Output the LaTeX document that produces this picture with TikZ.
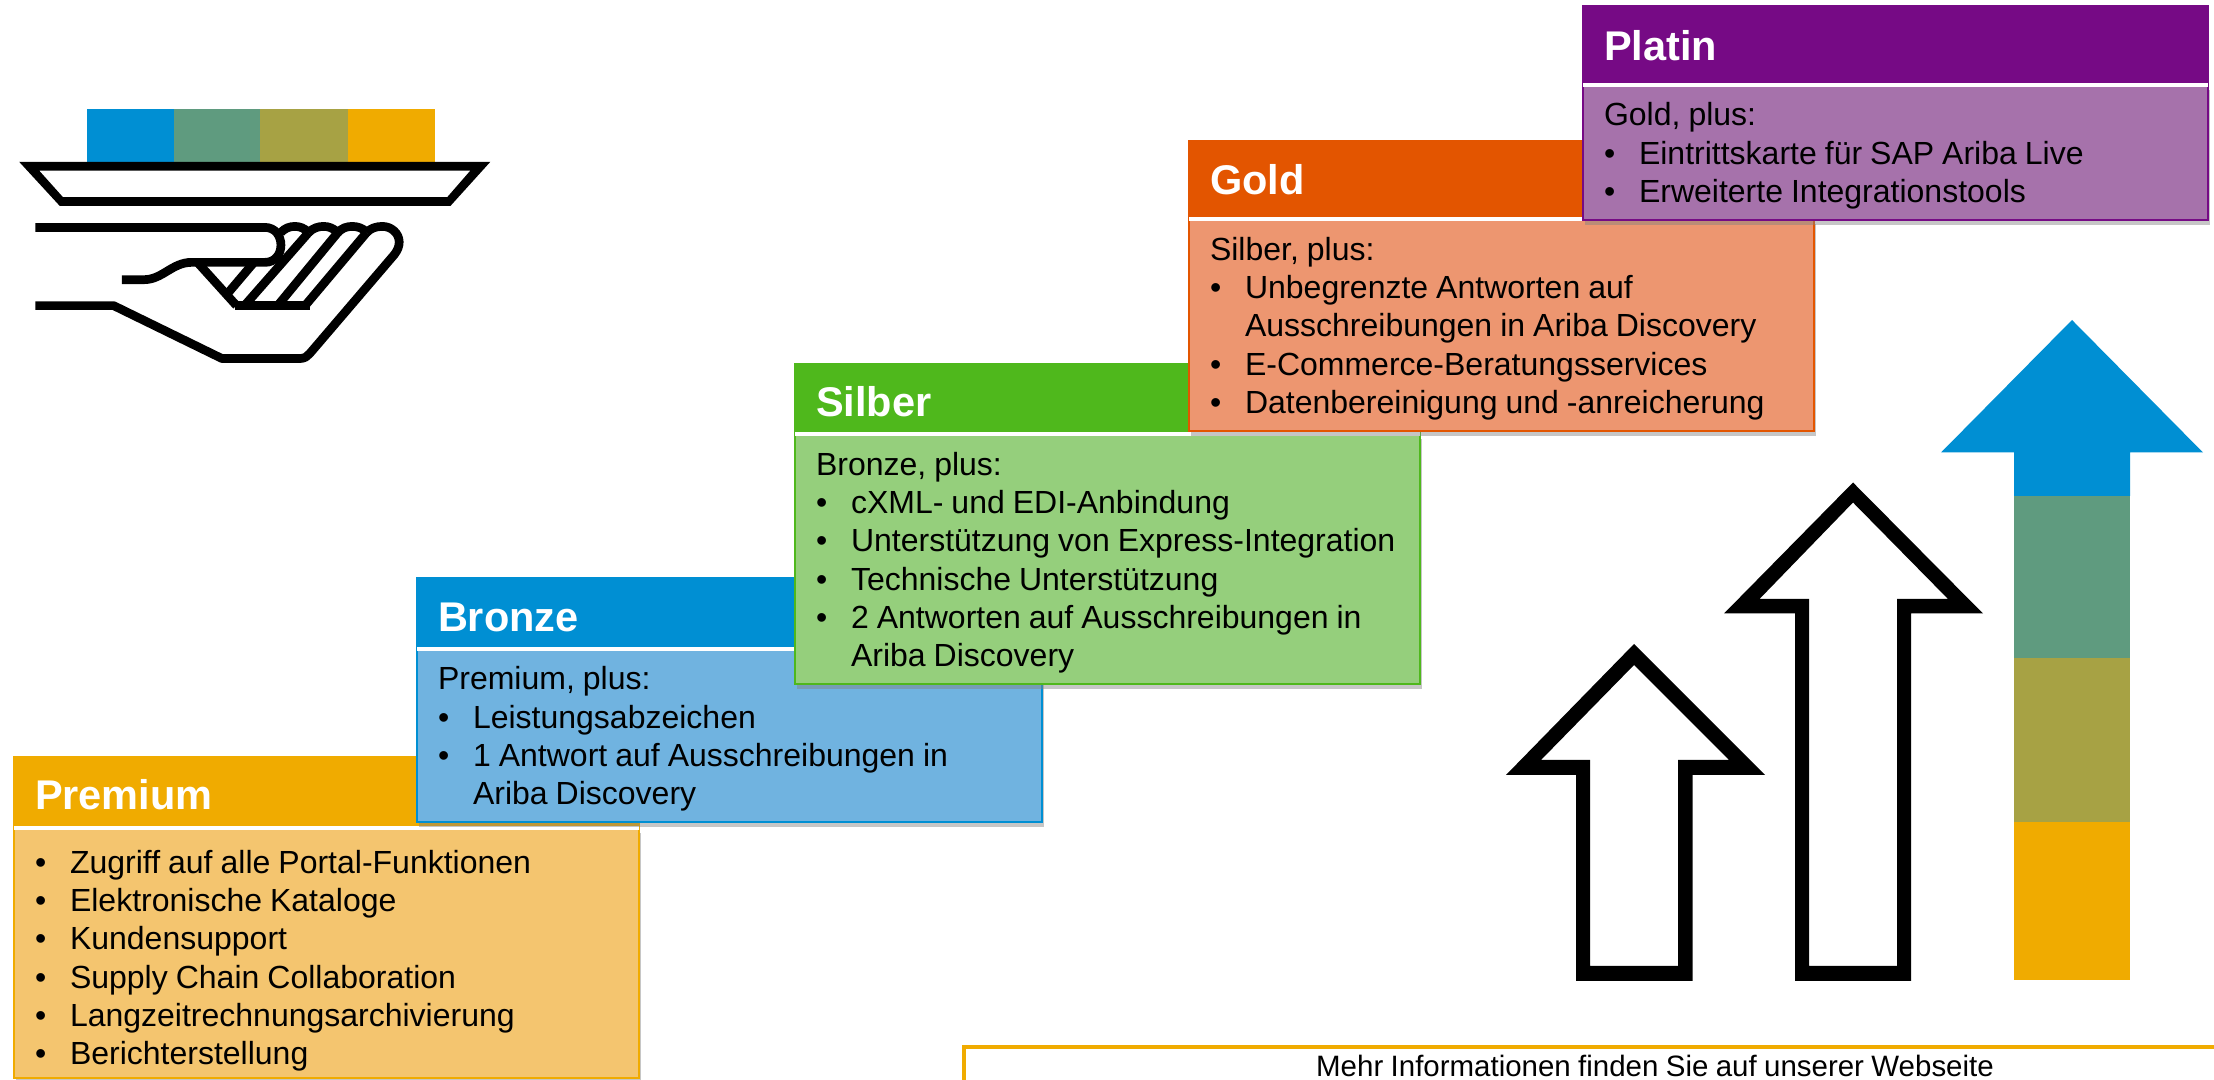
\documentclass[tikz,border=0pt]{standalone}
\usepackage{fontspec}
\setmainfont[WordSpace=.9]{Liberation Sans}
\usetikzlibrary{shadows}
\definecolor{sapblue}{HTML}{008FD3}
\definecolor{sapblueL}{HTML}{70B3E0}
\definecolor{sapgold}{HTML}{F0AB00}
\definecolor{sapgoldL}{HTML}{F4C56F}
\definecolor{sapgreen}{HTML}{4FB81C}
\definecolor{sapgreenL}{HTML}{95CF7C}
\definecolor{saporange}{HTML}{E35500}
\definecolor{saporangeL}{HTML}{ED9670}
\definecolor{sappurple}{HTML}{760A85}
\definecolor{sappurpleL}{HTML}{A672AB}
\definecolor{sapteal}{HTML}{5F9B7F}
\definecolor{sapolive}{HTML}{A7A244}
\newcommand{\tieritem}[1]{\mbox{\makebox[.35cm][l]{•}#1}}
\newcommand{\tiercont}[1]{\mbox{\hspace*{.35cm}#1}}
\tikzset{
  tierhead/.style={rectangle,anchor=north west,fill=#1,draw=#1,line width=.02cm,
    outer sep=0pt,inner xsep=.21cm,inner ysep=0pt,text width=5.83cm,align=flush left,
    text=white,font=\fontsize{11.8}{14}\selectfont\bfseries},
  headdrop/.style={execute at begin node={\rule{0pt}{10.3pt}}},
  tierbody/.style={rectangle,anchor=north west,fill=#1L,draw=#1,line width=.02cm,
    outer sep=0pt,inner xsep=.21cm,inner ysep=0pt,text width=5.83cm,align=flush left,
    text=black,font=\fontsize{9.1}{10.9}\selectfont,
    execute at begin node={\rule{0pt}{8.6pt}},
    drop shadow={shadow xshift=.015cm,shadow yshift=-.05cm,opacity=.45}},
  tierrule/.style={white,line width=.04cm},
  arrowline/.style={black,even odd rule},
  iconline/.style={black,line width=.087cm}
}
\begin{document}
\begin{tikzpicture}[x=.01cm,y=-.01cm]
  \useasboundingbox (0,0) rectangle (2214,1080);
  %% Tray with hand
  \foreach \xa/\xb/\tint in {86.5/173.5/sapblue,173.5/260/sapteal,260/347.5/sapolive,347.5/434.5/sapgold}
    \fill[\tint] (\xa,109.5) rectangle (\xb,163);
  \begin{scope}[shift={(0,80)},x=.003317cm,y=-.003333cm]
    \fill[arrowline] (58,246) -- (1480,246) -- (1360,378) -- (180,378) -- cycle
      (118,272) -- (1420,272) -- (1350,352) -- (190,352) -- cycle;
    \draw[iconline] (107,443) -- (800,443) .. controls (830,443) and (848,468) .. (848,496)
      .. controls (848,524) and (830,548) .. (800,548) -- (578,548)
      .. controls (520,548) and (490,600) .. (435,600) -- (368,600);
    \draw[iconline,line join=round] (107,678) -- (343,678) -- (670,837) -- (905,837)
      .. controls (920,837) and (928,830) .. (935,822) -- (1190,525)
      .. controls (1200,512) and (1205,500) .. (1205,487)
      .. controls (1205,460) and (1180,440) .. (1155,440)
      .. controls (1135,440) and (1120,445) .. (1107,458);
    %% Finger tips
    \draw[iconline] (848,458) .. controls (860,445) and (875,440) .. (890,440) .. controls (905,440) and (918,445) .. (932,458);
    \draw[iconline] (932,458) .. controls (945,445) and (960,440) .. (977,440) .. controls (992,440) and (1005,445) .. (1020,458);
    \draw[iconline] (1020,458) .. controls (1032,445) and (1047,440) .. (1063,440) .. controls (1080,440) and (1095,445) .. (1107,458);
    %% Palm
    \draw[iconline] (596,548) -- (714,678);
    \draw[iconline] (708,678) -- (935,678);
    \draw[iconline] (765,550) -- (690,638);
    \draw[iconline] (932,458) -- (738,678);
    \draw[iconline] (1020,458) -- (838,678);
    \draw[iconline] (1107,458) -- (921,678);
  \end{scope}
  %% Tier boxes
  \node[tierbody=sapgold,minimum height=2.50cm] (premiumbody) at (14,828) {%
    \rule{0pt}{11pt}\tieritem{Zugriff auf alle Portal-Funktionen}\\
    \tieritem{Elektronische Kataloge}\\
    \tieritem{Kundensupport}\\
    \tieritem{Supply Chain Collaboration}\\
    \tieritem{Langzeitrechnungsarchivierung}\\
    \tieritem{Berichterstellung}};
  \node[tierhead=sapgold,headdrop,minimum height=.70cm] (premiumhead) at (14,757) {Premium};
  \draw[tierrule] (premiumbody.north west) -- (premiumbody.north east);
  \node[tierbody=sapblue,minimum height=1.73cm] (bronzebody) at (417,649) {%
    Premium, plus:\\
    \tieritem{Leistungsabzeichen}\\
    \tieritem{1 Antwort auf Ausschreibungen in}\\
    \tiercont{Ariba Discovery}};
  \node[tierhead=sapblue,headdrop,minimum height=.71cm] (bronzehead) at (417,578) {Bronze};
  \draw[tierrule] (bronzebody.north west) -- (bronzebody.north east);
  \node[tierbody=sapgreen,minimum height=2.50cm] (silberbody) at (795,434) {%
    Bronze, plus:\\
    \tieritem{cXML- und EDI-Anbindung}\\
    \tieritem{Unterstützung von Express-Integration}\\
    \tieritem{Technische Unterstützung}\\
    \tieritem{2 Antworten auf Ausschreibungen in}\\
    \tiercont{Ariba Discovery}};
  \node[tierhead=sapgreen,headdrop,minimum height=.70cm] (silberhead) at (795,364) {Silber};
  \draw[tierrule] (silberbody.north west) -- (silberbody.north east);
  \node[tierbody=saporange,minimum height=2.12cm] (goldbody) at (1189,219) {%
    Silber, plus:\\
    \tieritem{Unbegrenzte Antworten auf}\\
    \tiercont{Ausschreibungen in Ariba Discovery}\\
    \tieritem{E-Commerce-Beratungsservices}\\
    \tieritem{Datenbereinigung und -anreicherung}};
  \node[tierhead=saporange,minimum height=.78cm] (goldhead) at (1189,141) {Gold};
  \draw[tierrule] (goldbody.north west) -- (goldbody.north east);
  \node[tierbody=sappurple,minimum height=1.35cm] (platinbody) at (1583,85) {%
    Gold, plus:\\
    \tieritem{Eintrittskarte für SAP Ariba Live}\\
    \tieritem{Erweiterte Integrationstools}};
  \node[tierhead=sappurple,minimum height=.79cm] (platinhead) at (1583,6) {Platin};
  \draw[tierrule] (platinbody.north west) -- (platinbody.north east);
  %% Arrows
  \fill[arrowline] (1634,644) -- (1765,775) -- (1692.5,775) -- (1692.5,981) -- (1576,981) -- (1576,775) -- (1506,775) -- cycle
    (1634,665) -- (1729,760) -- (1678,760) -- (1678,966) -- (1590,966) -- (1590,760) -- (1541,760) -- cycle;
  \fill[arrowline] (1853,482.5) -- (1983,613.5) -- (1911,613.5) -- (1911,981) -- (1795,981) -- (1795,613.5) -- (1724,613.5) -- cycle
    (1853,502.5) -- (1948,599) -- (1897,599) -- (1897,966) -- (1809,966) -- (1809,599) -- (1759.5,599) -- cycle;
  \fill[sapblue] (2072,320) -- (2203,452.5) -- (2130,452.5) -- (2130,496) -- (2014,496) -- (2014,452.5) -- (1941,452.5) -- cycle;
  \foreach \ya/\yb/\tint in {496/658/sapteal,658/822.5/sapolive,822.5/980/sapgold}
    \fill[\tint] (2014,\ya) rectangle (2130,\yb);
  %% Footer
  \draw[sapgold,line width=.04cm] (964,1090) -- (964,1047) -- (2230,1047);
  \node[inner sep=0pt,font=\fontsize{8.38}{10}\selectfont] (footertext) at (1655,1066) {Mehr Informationen finden Sie auf unserer Webseite};
\end{tikzpicture}
\end{document}
